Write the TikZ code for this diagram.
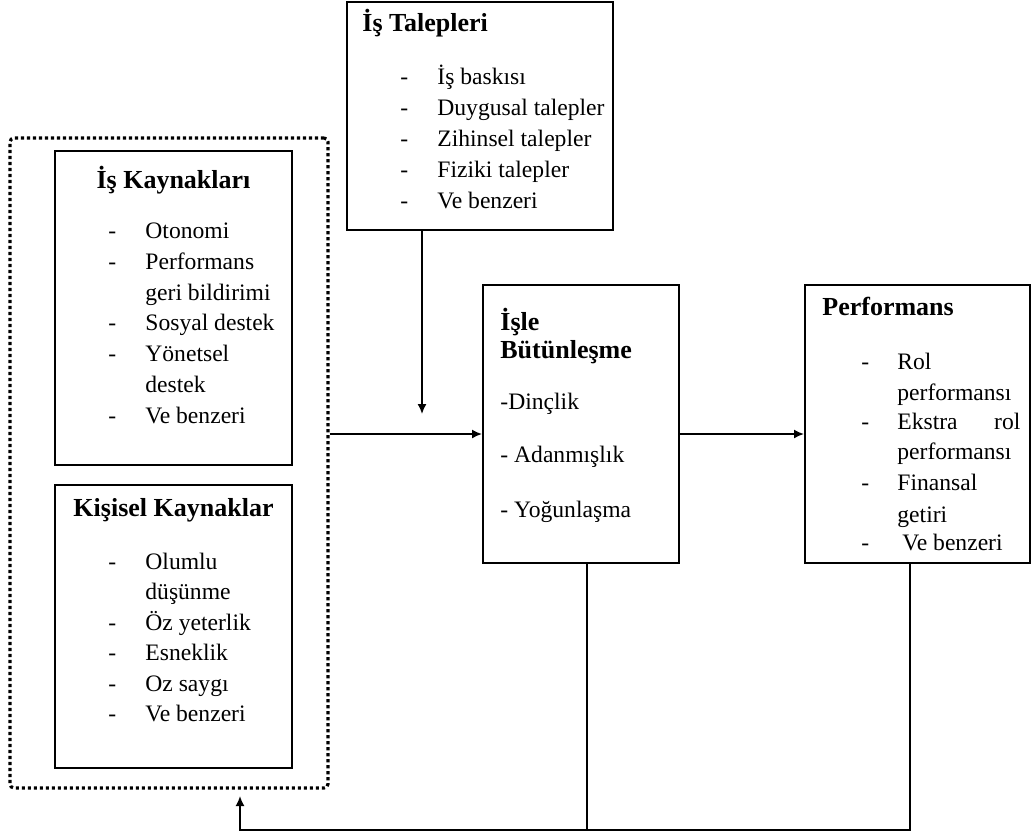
\documentclass[tikz,border=0pt]{standalone}
\usepackage{fontspec}
\setmainfont{Liberation Serif}
\usetikzlibrary{arrows.meta,fit}

\tikzset{
  box/.style={draw, line width=1pt, inner sep=0pt},
  group/.style={draw, line width=1.6pt, dash pattern=on 1.6pt off 1.4pt, rounded corners=2pt, inner sep=0pt},
  txt/.style={anchor=base west, inner sep=0pt, font=\fontsize{11.8}{14}\selectfont},
  ttl/.style={txt, font=\fontsize{13}{15}\selectfont\bfseries},
  ttlc/.style={ttl, anchor=base},
  bul/.style={txt},
  wire/.style={line width=0.8pt},
  link/.style={wire, -{Latex[length=5pt, width=4.5pt]}}
}

\begin{document}
\begin{tikzpicture}[x=0.5pt, y=-0.5pt]
\useasboundingbox (0,0) rectangle (1033,836);

% ---------- boxes ----------
\node[group, fit={(10,138) (328,788)}] (res) {};
\node[box, fit={(55,151) (292,465)}] (kay) {};
\node[box, fit={(55,485) (292,768)}] (kis) {};
\node[box, fit={(347,2) (613,230)}] (tal) {};
\node[box, fit={(483,285) (679,563)}] (isle) {};
\node[box, fit={(805,285) (1030,563)}] (perf) {};

% ---------- İş Talepleri ----------
\node[ttl] (tal-t) at (362,31) {İş Talepleri};
\node[bul] (tal-d1) at (400,84) {-};  \node[txt] (tal-1) at (437,84) {İş baskısı};
\node[bul] (tal-d2) at (400,115) {-}; \node[txt] (tal-2) at (437,115) {Duygusal talepler};
\node[bul] (tal-d3) at (400,146) {-}; \node[txt] (tal-3) at (437,146) {Zihinsel talepler};
\node[bul] (tal-d4) at (400,177) {-}; \node[txt] (tal-4) at (437,177) {Fiziki talepler};
\node[bul] (tal-d5) at (400,208) {-}; \node[txt] (tal-5) at (437,208) {Ve benzeri};

% ---------- İş Kaynakları ----------
\node[ttlc] (kay-t) at (173.5,188) {İş Kaynakları};
\node[bul] (kay-d1) at (108,238) {-}; \node[txt] (kay-1) at (145,238) {Otonomi};
\node[bul] (kay-d2) at (108,269) {-}; \node[txt] (kay-2) at (145,269) {Performans};
                                      \node[txt] (kay-3) at (145,300) {geri bildirimi};
\node[bul] (kay-d4) at (108,330) {-}; \node[txt] (kay-4) at (145,330) {Sosyal destek};
\node[bul] (kay-d5) at (108,361) {-}; \node[txt] (kay-5) at (145,361) {Yönetsel};
                                      \node[txt] (kay-6) at (145,392) {destek};
\node[bul] (kay-d7) at (108,423) {-}; \node[txt] (kay-7) at (145,423) {Ve benzeri};

% ---------- Kişisel Kaynaklar ----------
\node[ttlc] (kis-t) at (173.5,516) {Kişisel Kaynaklar};
\node[bul] (kis-d1) at (108,569) {-}; \node[txt] (kis-1) at (145,569) {Olumlu};
                                      \node[txt] (kis-2) at (145,599.5) {düşünme};
\node[bul] (kis-d3) at (108,630) {-}; \node[txt] (kis-3) at (145,630) {Öz yeterlik};
\node[bul] (kis-d4) at (108,660.5) {-}; \node[txt] (kis-4) at (145,660.5) {Esneklik};
\node[bul] (kis-d5) at (108,691) {-}; \node[txt] (kis-5) at (145,691) {Oz saygı};
\node[bul] (kis-d6) at (108,721.5) {-}; \node[txt] (kis-6) at (145,721.5) {Ve benzeri};

% ---------- İşle Bütünleşme ----------
\node[ttl] (isle-t1) at (500,330) {İşle};
\node[ttl] (isle-t2) at (500,358) {Bütünleşme};
\node[txt] (isle-1) at (500,409) {-Dinçlik};
\node[txt] (isle-2) at (500,462) {- Adanmışlık};
\node[txt] (isle-3) at (500,517) {- Yoğunlaşma};

% ---------- Performans ----------
\node[ttl] (perf-t) at (822,315) {Performans};
\node[bul] (perf-d1) at (861,369) {-}; \node[txt] (perf-1) at (897,369) {Rol};
                                       \node[txt] (perf-2) at (897,400) {performansı};
\node[bul] (perf-d3) at (861,429) {-}; \node[txt] (perf-3) at (897,429) {\makebox[61.5pt][s]{Ekstra\hfill rol}};
                                       \node[txt] (perf-4) at (897,459) {performansı};
\node[bul] (perf-d5) at (861,490) {-}; \node[txt] (perf-5) at (897,490) {Finansal};
                                       \node[txt] (perf-6) at (897,522) {getiri};
\node[bul] (perf-d7) at (861,550) {-}; \node[txt] (perf-7) at (902,550) {Ve benzeri};

% ---------- connectors ----------
\coordinate (mid) at (0,434);
\coordinate (tend) at (422,414);
\coordinate (fa) at (587,0);
\coordinate (fb) at (910,0);
\coordinate (fbk) at (240,830);
\coordinate (ftip) at (240,796);

\draw[link] (tend |- tal.south) -- (tend);
\draw[link] (res.east |- mid) -- (isle.west |- mid);
\draw[link] (isle.east |- mid) -- (perf.west |- mid);
\draw[wire] (fa |- isle.south) -- (fa |- fbk);
\draw[link] (fb |- perf.south) -- (fb |- fbk) -- (fbk) -- (ftip);

\end{tikzpicture}
\end{document}
